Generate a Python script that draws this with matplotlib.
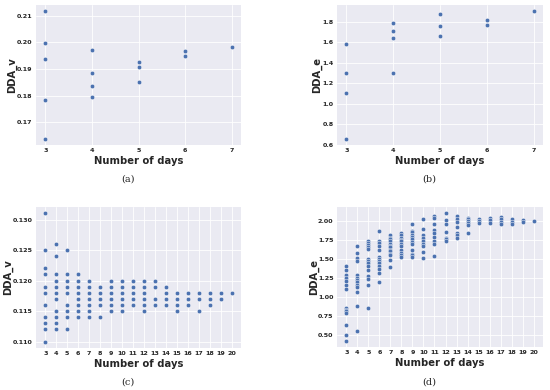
import matplotlib
matplotlib.use("Agg")
import matplotlib.pyplot as plt
import seaborn as sns

sns.set_style("darkgrid")
plt.rcParams['font.family'] = ['DejaVu Sans']

# ---- data ----
# (a) DDA_v vs days
a_days = [3, 3, 3, 3, 3, 4, 4, 4, 4, 5, 5, 5, 6, 6, 7]
a_vals = [0.2116, 0.1999, 0.1936, 0.1783, 0.1639,
          0.1970, 0.1885, 0.1838, 0.1794,
          0.1925, 0.1909, 0.1852,
          0.1969, 0.1949,
          0.1984]

# (b) DDA_e vs days
b_days = [3, 3, 3, 3, 4, 4, 4, 4, 5, 5, 5, 6, 6, 7]
b_vals = [1.586, 1.300, 1.109, 0.658,
          1.787, 1.712, 1.644, 1.304,
          1.881, 1.761, 1.661,
          1.816, 1.771,
          1.904]

# (c) DDA_v per day count
c_groups = {
    3: [0.131, 0.125, 0.122, 0.121, 0.119, 0.118, 0.116, 0.114, 0.113, 0.112, 0.110],
    4: [0.126, 0.124, 0.121, 0.120, 0.119, 0.118, 0.117, 0.115, 0.114, 0.113, 0.112],
    5: [0.125, 0.121, 0.120, 0.119, 0.118, 0.116, 0.115, 0.114, 0.112],
    6: [0.121, 0.120, 0.119, 0.118, 0.117, 0.116, 0.115, 0.114],
    7: [0.120, 0.119, 0.118, 0.117, 0.116, 0.115, 0.114],
    8: [0.119, 0.118, 0.117, 0.116, 0.114],
    9: [0.120, 0.119, 0.118, 0.117, 0.116, 0.115],
    10: [0.120, 0.119, 0.118, 0.117, 0.116, 0.115],
    11: [0.120, 0.119, 0.118, 0.117, 0.116],
    12: [0.120, 0.119, 0.118, 0.117, 0.116, 0.115],
    13: [0.120, 0.119, 0.117, 0.116],
    14: [0.119, 0.118, 0.117, 0.116],
    15: [0.118, 0.117, 0.116, 0.115],
    16: [0.118, 0.117, 0.116],
    17: [0.118, 0.117, 0.115],
    18: [0.118, 0.117, 0.116],
    19: [0.118, 0.117],
    20: [0.118],
}

# (d) DDA_e per day count
d_groups = {
    3: [1.40, 1.35, 1.29, 1.25, 1.21, 1.16, 1.10, 0.85, 0.83, 0.81, 0.79, 0.62, 0.50, 0.42],
    4: [1.665, 1.574, 1.509, 1.465, 1.283, 1.25, 1.22, 1.19, 1.16, 1.13, 1.065, 0.88, 0.55],
    5: [1.74, 1.71, 1.68, 1.65, 1.63, 1.50, 1.47, 1.44, 1.41, 1.35, 1.27, 1.24, 1.16, 0.85],
    6: [1.87, 1.74, 1.71, 1.67, 1.62, 1.53, 1.50, 1.47, 1.44, 1.40, 1.36, 1.31, 1.20],
    7: [1.81, 1.78, 1.76, 1.73, 1.70, 1.67, 1.65, 1.62, 1.60, 1.57, 1.55, 1.49, 1.39],
    8: [1.84, 1.81, 1.78, 1.75, 1.73, 1.70, 1.67, 1.62, 1.58, 1.55, 1.53],
    9: [1.96, 1.87, 1.85, 1.82, 1.79, 1.76, 1.72, 1.69, 1.62, 1.57, 1.55, 1.53],
    10: [2.02, 1.89, 1.82, 1.78, 1.74, 1.70, 1.67, 1.59, 1.51],
    11: [2.07, 2.04, 1.96, 1.88, 1.84, 1.79, 1.74, 1.69, 1.54],
    12: [2.10, 2.01, 1.96, 1.85, 1.78, 1.76, 1.73],
    13: [2.06, 2.03, 1.99, 1.92, 1.84, 1.81, 1.78],
    14: [2.04, 2.02, 2.00, 1.97, 1.94, 1.84],
    15: [2.02, 2.00, 1.97],
    16: [2.04, 2.01, 1.97],
    17: [2.05, 2.02, 1.99, 1.96],
    18: [2.02, 1.99, 1.96],
    19: [2.01, 1.99],
    20: [2.00],
}

c_days = [k for k, v in c_groups.items() for _ in v]
c_vals = [x for v in c_groups.values() for x in v]
d_days = [k for k, v in d_groups.items() for _ in v]
d_vals = [x for v in d_groups.values() for x in v]

xlabel = "Number of days"
panels = [
    (a_days, a_vals, "DDA_v", [0.17, 0.18, 0.19, 0.20, 0.21], "{:.2f}", list(range(3, 8)), "(a)"),
    (b_days, b_vals, "DDA_e", [0.6, 0.8, 1.0, 1.2, 1.4, 1.6, 1.8], "{:.1f}", list(range(3, 8)), "(b)"),
    (c_days, c_vals, "DDA_v", [0.110, 0.115, 0.120, 0.125, 0.130], "{:.3f}", list(range(3, 21)), "(c)"),
    (d_days, d_vals, "DDA_e", [0.50, 0.75, 1.00, 1.25, 1.50, 1.75, 2.00], "{:.2f}", list(range(3, 21)), "(d)"),
]

W, H = 550, 390
fig = plt.figure(figsize=(5.5, 3.9), dpi=100)
rects = [
    (36, 5, 241, 145),
    (337, 5, 543, 145),
    (36, 207, 241, 348),
    (337, 207, 543, 347),
]
cap_pos = [(128, 179), (429, 179), (128, 382), (429, 382)]
ylab_x = [17, 322, 13, 319]

for (xs, ys, ylab, yt, fmt, xt, cap), (l, t, r, b), (cx, cy), yx in zip(panels, rects, cap_pos, ylab_x):
    ax = fig.add_axes([l / W, 1 - b / H, (r - l) / W, (b - t) / H])
    ax.set_facecolor("#EAEAF2")
    ax.scatter(xs, ys, s=10, color="#4C72B0", edgecolor="white", linewidth=0.3, zorder=3)
    ax.set_yticks(yt)
    ax.set_yticklabels([fmt.format(v) for v in yt])
    ax.set_xticks(xt)
    ax.set_xticklabels([str(v) for v in xt])
    ax.tick_params(axis="both", length=0, pad=2.5, labelsize=4.6)
    for lbl in ax.get_xticklabels() + ax.get_yticklabels():
        lbl.set_fontweight("bold")
    ax.grid(True, color="white", linewidth=0.6)
    for s in ax.spines.values():
        s.set_visible(False)
    ax.set_xlabel(xlabel, fontsize=7.2, fontweight="bold", labelpad=2)
    ax.set_ylabel(ylab, fontsize=7.2, fontweight="bold", labelpad=1)
    ax.yaxis.set_label_coords((yx - l) / (r - l), 0.5)
    fig.text(cx / W, 1 - cy / H, cap, ha="center", va="center",
             fontsize=7, family="DejaVu Serif")

fig.savefig("out.png", dpi=100)
